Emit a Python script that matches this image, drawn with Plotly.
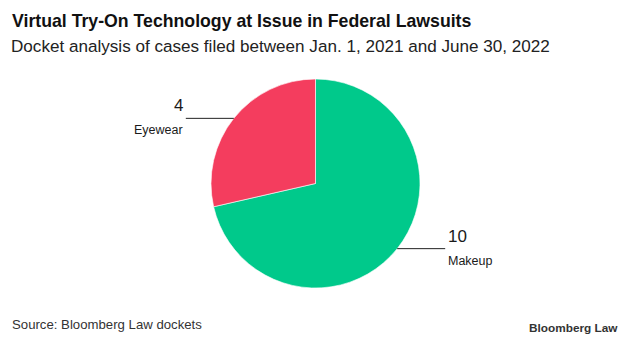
import math
import plotly.graph_objects as go

# ---- data ----
labels = ["Makeup", "Eyewear"]
values = [10, 4]
colors = ["#00c98b", "#f43d5e"]

title = "Virtual Try-On Technology at Issue in Federal Lawsuits"
subtitle = "Docket analysis of cases filed between Jan. 1, 2021 and June 30, 2022"
source = "Source: Bloomberg Law dockets"
brand = "Bloomberg Law"

W, H = 633, 341
# pie placement (pixels)
cx, cy, r = 315.5, 183.5, 104.5
line_len = 48

def px(x):
    return x / W

def py(y):
    return 1 - y / H

fig = go.Figure()
fig.add_trace(go.Pie(
    labels=labels, values=values, sort=False, direction="clockwise", rotation=0,
    marker=dict(colors=colors, line=dict(color="white", width=0.6)),
    textinfo="none", hoverinfo="label+value", showlegend=False,
    domain=dict(x=[px(cx - r), px(cx + r)], y=[py(cy + r), py(cy - r)]),
))

shapes = []
annotations = []
total = sum(values)
cum = 0
for lab, v in zip(labels, values):
    mid = cum + v / 2
    cum += v
    ang = math.radians(90 - 360 * mid / total)  # clockwise from top
    ex = cx + r * math.cos(ang)
    ey = cy - r * math.sin(ang)
    side = 1 if math.cos(ang) >= 0 else -1
    x1 = ex + side * line_len
    shapes.append(dict(type="line", xref="paper", yref="paper",
                       x0=px(ex), y0=py(ey), x1=px(x1), y1=py(ey),
                       line=dict(color="#222", width=1)))
    tx = x1 + side * 1
    anchor = "left" if side > 0 else "right"
    annotations.append(dict(text=str(v), x=px(tx), y=py(ey - 1), xref="paper", yref="paper",
                            xanchor=anchor, yanchor="bottom", showarrow=False,
                            font=dict(family="Liberation Sans, Arial", size=17, color="#1a1a1a")))
    annotations.append(dict(text=lab, x=px(tx), y=py(ey + 3), xref="paper", yref="paper",
                            xanchor=anchor, yanchor="top", showarrow=False,
                            font=dict(family="Liberation Sans, Arial", size=12.5, color="#1a1a1a")))

annotations += [
    dict(text="<b>" + title + "</b>", x=px(10), y=py(21), xref="paper", yref="paper",
         xanchor="left", yanchor="middle", showarrow=False,
         font=dict(family="Liberation Sans, Arial", size=17.7, color="#111")),
    dict(text=subtitle, x=px(9), y=py(47), xref="paper", yref="paper",
         xanchor="left", yanchor="middle", showarrow=False,
         font=dict(family="Liberation Sans, Arial", size=17.1, color="#222")),
    dict(text=source, x=px(10), y=py(324), xref="paper", yref="paper",
         xanchor="left", yanchor="middle", showarrow=False,
         font=dict(family="Liberation Sans, Arial", size=13.2, color="#333")),
    dict(text="<b>" + brand + "</b>", x=px(620), y=py(328), xref="paper", yref="paper",
         xanchor="right", yanchor="middle", showarrow=False,
         font=dict(family="Liberation Sans, Arial", size=11.8, color="#333")),
]

fig.update_layout(
    width=W, height=H, margin=dict(l=0, r=0, t=0, b=0),
    paper_bgcolor="white", plot_bgcolor="white",
    shapes=shapes, annotations=annotations,
)

fig.write_html("out.html")
